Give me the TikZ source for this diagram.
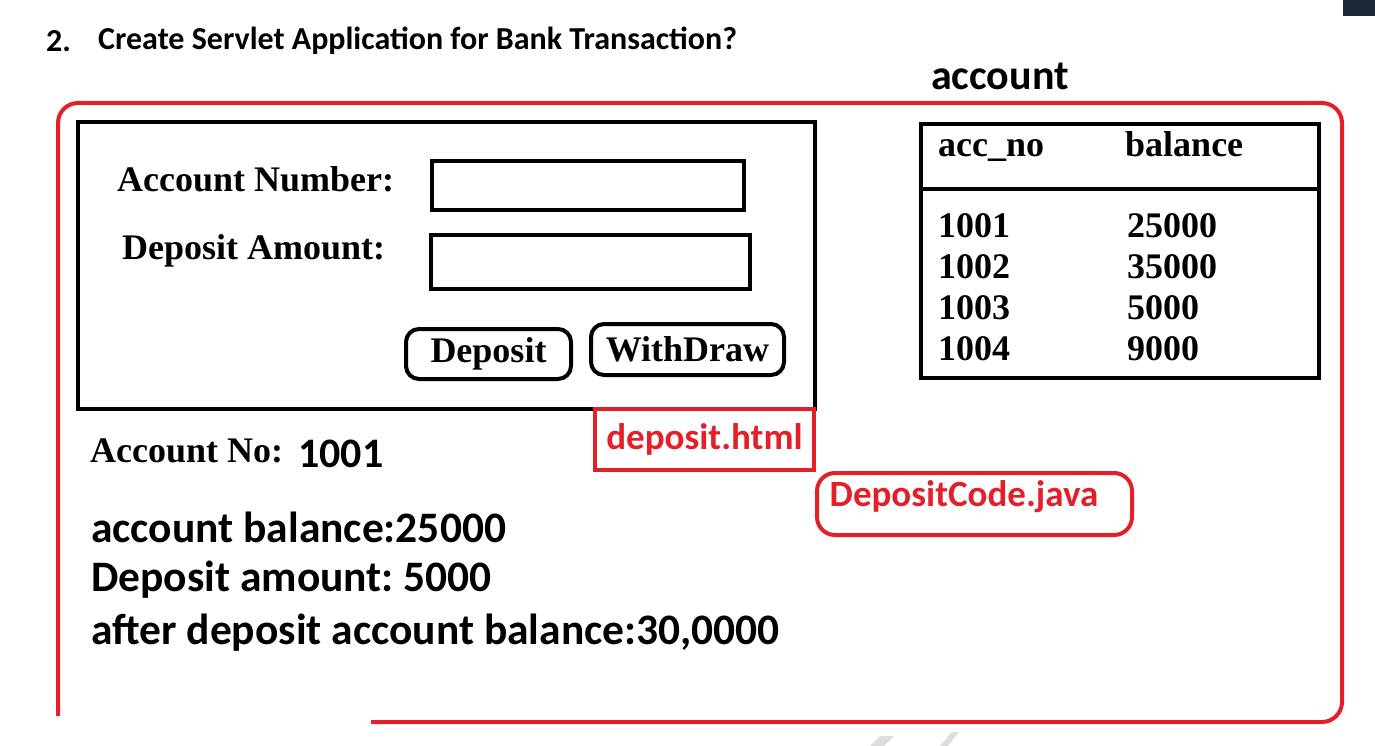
\documentclass[tikz,border=0pt]{standalone}
\usepackage{fontspec}
\setmainfont{Liberation Serif}
\newfontfamily\calibri{Carlito}
\usepackage{tikz}
\usetikzlibrary{positioning, calc}
\usepackage{xcolor}
\definecolor{redframe}{HTML}{E3202A}
\definecolor{ink}{HTML}{000000}
\definecolor{darkcorner}{HTML}{1E2938}
\definecolor{wmgrey}{HTML}{DDDDDD}
\frenchspacing

\begin{document}
\begin{tikzpicture}[x=1pt, y=-1pt]
        \useasboundingbox (0,0) rectangle (1375,746);

        % Title
        \node[anchor=west, inner sep=0pt, font=\calibri\bfseries\fontsize{32}{36}\selectfont] (num) at (46, 41) {2.};
        \node[anchor=west, inner sep=0pt, font=\calibri\bfseries\fontsize{32}{36}\selectfont] (title) at (98, 41) {Create Servlet Application for Bank Transaction?};
        \fill[darkcorner] (1343,0) rectangle (1375,16);
        \fill[wmgrey] (870,746) -- (880,736) -- (894,736) -- (884,746) -- cycle;
        \fill[wmgrey] (940,746) -- (952,732) -- (959,732) -- (948,746) -- cycle;

        % Table name
        \node[anchor=west, inner sep=0pt, font=\calibri\bfseries\fontsize{42}{46}\selectfont] (tname) at (931, 76) {account};

        % Outer red frame
        \draw[redframe, line width=4pt, rounded corners=20pt] (371,722) -- (1342,722) -- (1342,103) -- (58,103) -- (58,716);

        % HTML form
        \node[draw=ink, line width=4pt, minimum width=737pt, minimum height=287pt, inner sep=0pt] (form) at (446.5, 265.5) {};
        \node[anchor=west, inner sep=0pt, font=\bfseries\fontsize{36}{40}\selectfont] (lblno) at (117, 179) {Account Number:};
        \node[draw=ink, line width=4pt, minimum width=312pt, minimum height=49pt, inner sep=0pt] (fieldno) at (588, 185.5) {};
        \node[anchor=west, inner sep=0pt, font=\bfseries\fontsize{36}{40}\selectfont] (lblamt) at (122, 251) {Deposit Amount:};
        \node[draw=ink, line width=4pt, minimum width=319pt, minimum height=54pt, inner sep=0pt] (fieldamt) at (590.5, 262) {};
        \node[draw=ink, line width=4pt, rounded corners=13pt, minimum width=165pt, minimum height=50pt, inner sep=0pt, font=\bfseries\fontsize{36}{40}\selectfont] (btndep) at (488.5, 354) {Deposit};
        \node[draw=ink, line width=4pt, rounded corners=13pt, minimum width=193pt, minimum height=51pt, inner sep=0pt, font=\bfseries\fontsize{36}{40}\selectfont] (btnwd) at (687.5, 349.5) {WithDraw};

        % Table
        \node[draw=ink, line width=4pt, minimum width=398pt, minimum height=254pt, inner sep=0pt] (tbl) at (1120, 251) {};
        \draw[ink, line width=4pt] ($(tbl.north west)+(0,67)$) -- ($(tbl.north east)+(0,67)$);
        \node[anchor=base west, inner sep=0pt, font=\bfseries\fontsize{36}{40}\selectfont] (hno) at (938, 157) {acc\_no};
        \node[anchor=base west, inner sep=0pt, font=\bfseries\fontsize{36}{40}\selectfont] (hbal) at (1125, 157) {balance};
        \node[anchor=north west, inner sep=0pt, align=left, font=\bfseries\fontsize{36}{41}\selectfont] (nos) at (938, 213) {1001\\1002\\1003\\1004};
        \node[anchor=north west, inner sep=0pt, align=left, font=\bfseries\fontsize{36}{41}\selectfont] (bals) at (1127, 213) {25000\\35000\\5000\\9000};

        % File labels
        \node[draw=redframe, line width=4pt, text=redframe, minimum width=219pt, minimum height=61pt, inner sep=0pt, font=\calibri\bfseries\fontsize{37}{40}\selectfont] (html) at (704.5, 439.5) {deposit.html};
        \node[draw=redframe, line width=4pt, rounded corners=18pt, minimum width=315pt, minimum height=62pt, inner sep=0pt] (java) at (974.5, 504) {};
        \node[text=redframe, inner sep=0pt, font=\calibri\bfseries\fontsize{37}{40}\selectfont] (javatxt) at (964, 497) {DepositCode.java};

        % Result
        \node[anchor=west, inner sep=0pt, font=\bfseries\fontsize{36}{40}\selectfont] (resno) at (90, 451) {Account No:};
        \node[anchor=west, inner sep=0pt, font=\calibri\bfseries\fontsize{42}{46}\selectfont] (resval) at (298, 454) {1001};
        \node[anchor=west, inner sep=0pt, font=\calibri\bfseries\fontsize{43.5}{48}\selectfont] (resbal) at (91, 527) {account balance:25000};
        \node[anchor=west, inner sep=0pt, font=\calibri\bfseries\fontsize{43.5}{48}\selectfont] (resamt) at (91, 580) {Deposit amount: 5000};
        \node[anchor=west, inner sep=0pt, font=\calibri\bfseries\fontsize{43.5}{48}\selectfont] (resnew) at (91, 633) {after deposit account balance:30,0000};
\end{tikzpicture}
\end{document}
